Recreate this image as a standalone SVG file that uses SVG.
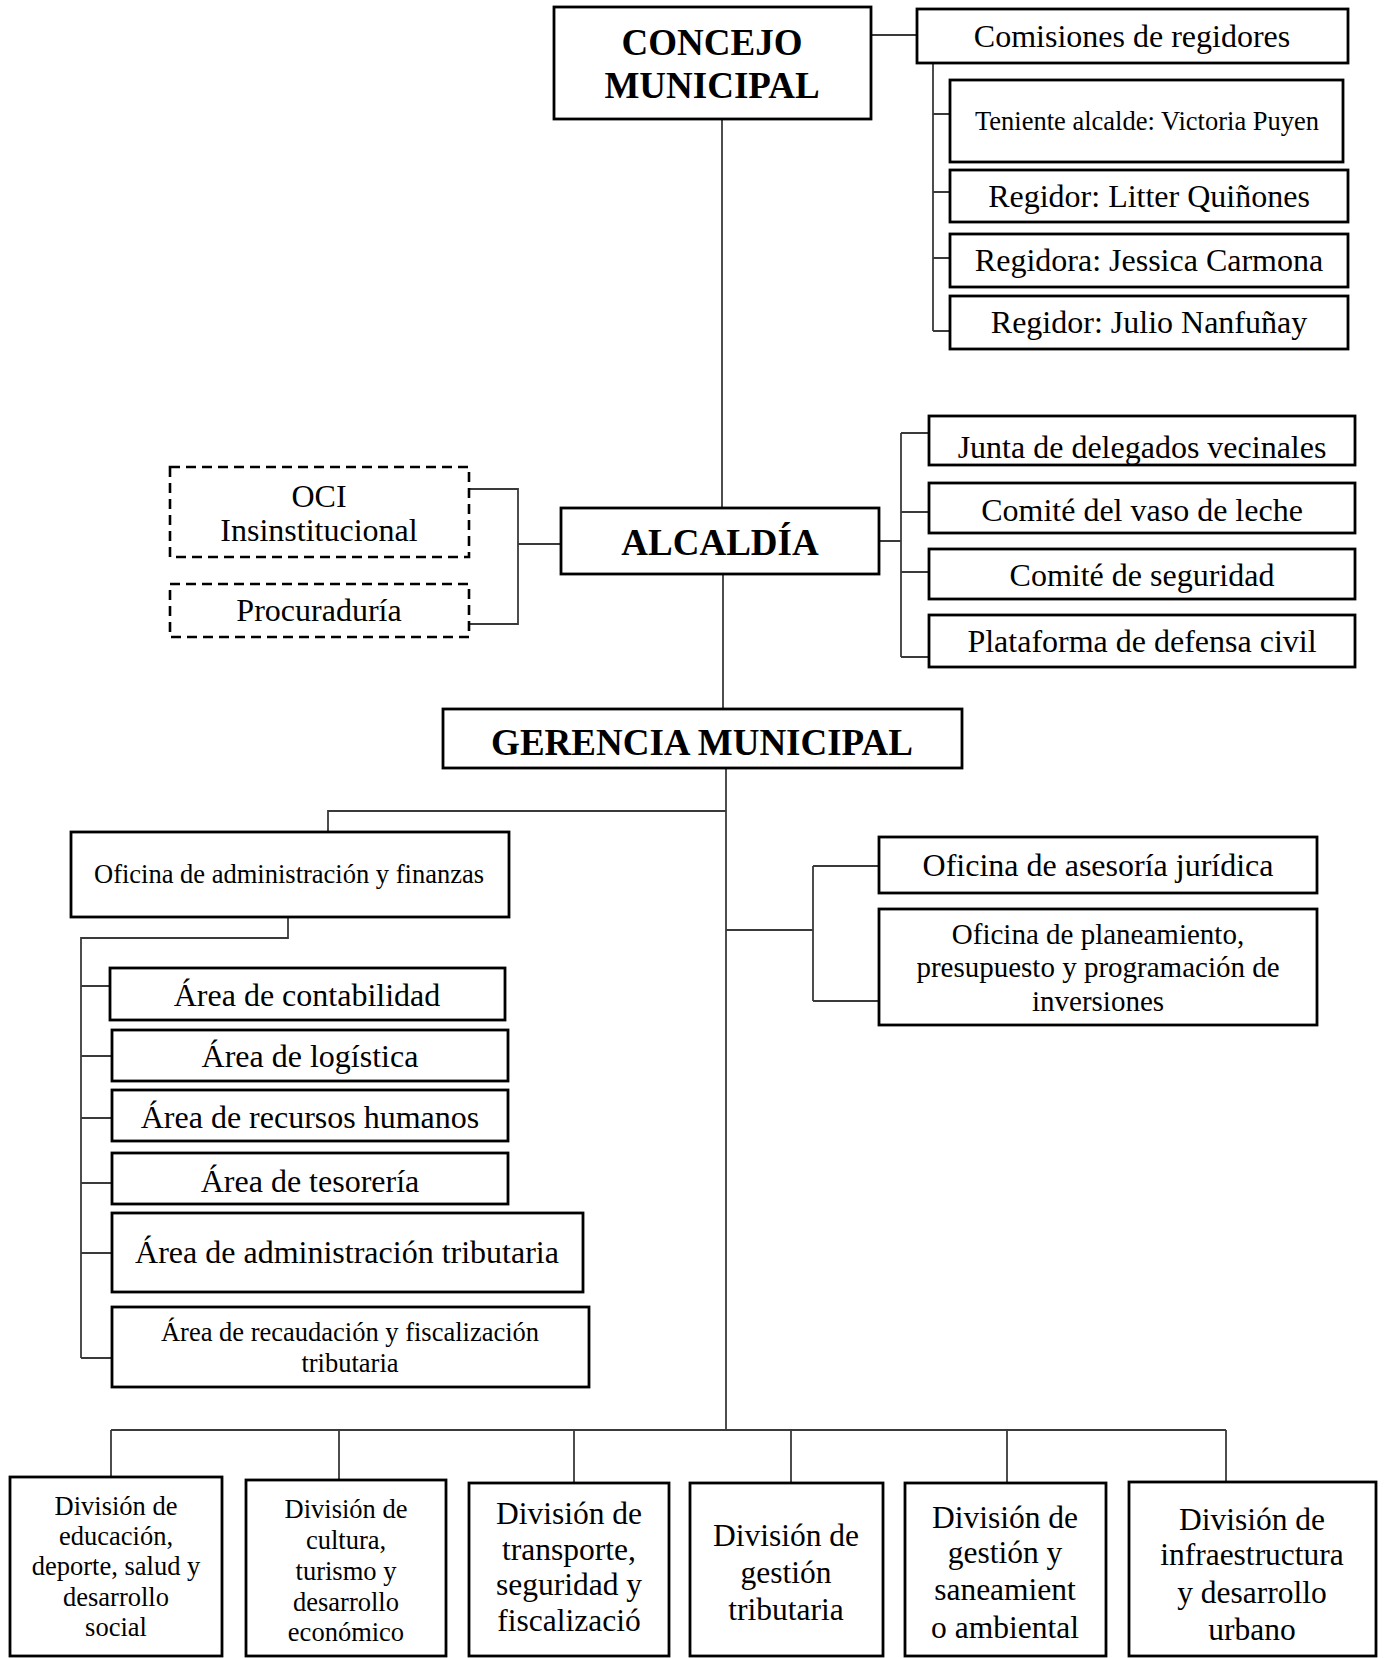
<svg xmlns="http://www.w3.org/2000/svg" width="1386" height="1658" viewBox="0 0 1386 1658">
<style>
  .box { fill: #ffffff; stroke: #000000; stroke-width: 2.8; }
  .dash { fill: #ffffff; stroke: #000000; stroke-width: 2.6; stroke-dasharray: 10 6; }
  .conn { fill: none; stroke: #3a3a3a; stroke-width: 1.8; }
  text { font-family: "Liberation Serif", "Times New Roman", serif; fill: #000000; text-anchor: middle; }
  .t32 { font-size: 32px; }
  .t26 { font-size: 26.5px; }
  .t29 { font-size: 29px; }
  .t31 { font-size: 31.5px; }
  .b37 { font-size: 37px; font-weight: bold; }
</style>
<rect x="0" y="0" width="1386" height="1658" fill="#ffffff"/>
<g id="connectors">
  <path class="conn" d="M722,119 V508"/>
  <path class="conn" d="M723,574 V709"/>
  <path class="conn" d="M726,768 V1430"/>
  <path class="conn" d="M871,35 H917"/>
  <path class="conn" d="M933,64 V331 M933,114 H950 M933,192 H950 M933,258 H950 M933,331 H950"/>
  <path class="conn" d="M469,489 H518 V624 H469 M518,544 H561"/>
  <path class="conn" d="M879,541 H901 M901,433 V657 M901,433 H929 M901,512 H929 M901,572 H929 M901,657 H929"/>
  <path class="conn" d="M726,811 H328 V832"/>
  <path class="conn" d="M288,917 V938 H81 V1358 M81,986 H110 M81,1056 H112 M81,1118 H112 M81,1183 H112 M81,1253 H112 M81,1358 H112"/>
  <path class="conn" d="M726,930 H813 M813,866 V1001 M813,866 H879 M813,1001 H879"/>
  <path class="conn" d="M111,1430 H1226 M111,1430 V1477 M339,1430 V1480 M574,1430 V1483 M791,1430 V1483 M1007,1430 V1483 M1226,1430 V1482"/>
</g>
<g id="concejo">
  <rect class="box" x="554" y="7" width="317" height="112"/>
  <text class="b37" x="712" y="55">CONCEJO</text>
  <text class="b37" x="712" y="98">MUNICIPAL</text>
</g>
<g id="comisiones">
  <rect class="box" x="917" y="9" width="431" height="54"/>
  <text class="t32" x="1132" y="47">Comisiones de regidores</text>
</g>
<g id="teniente">
  <rect class="box" x="950" y="80" width="393" height="82"/>
  <text class="t26" x="1147" y="130">Teniente alcalde: Victoria Puyen</text>
</g>
<g id="litter">
  <rect class="box" x="950" y="170" width="398" height="52"/>
  <text class="t32" x="1149" y="207">Regidor: Litter Quiñones</text>
</g>
<g id="jessica">
  <rect class="box" x="950" y="234" width="398" height="53"/>
  <text class="t32" x="1149" y="271">Regidora: Jessica Carmona</text>
</g>
<g id="julio">
  <rect class="box" x="950" y="296" width="398" height="53"/>
  <text class="t32" x="1149" y="333">Regidor: Julio Nanfuñay</text>
</g>
<g id="oci">
  <rect class="dash" x="170" y="467" width="299" height="90"/>
  <text class="t32" x="319" y="507">OCI</text>
  <text class="t32" x="319" y="541">Insinstitucional</text>
</g>
<g id="procuraduria">
  <rect class="dash" x="170" y="584" width="299" height="53"/>
  <text class="t32" x="319" y="621">Procuraduría</text>
</g>
<g id="alcaldia">
  <rect class="box" x="561" y="508" width="318" height="66"/>
  <text class="b37" x="720" y="555">ALCALDÍA</text>
</g>
<g id="junta">
  <rect class="box" x="929" y="416" width="426" height="49"/>
  <text class="t32" x="1142" y="458">Junta de delegados vecinales</text>
</g>
<g id="vaso">
  <rect class="box" x="929" y="483" width="426" height="50"/>
  <text class="t32" x="1142" y="521">Comité del vaso de leche</text>
</g>
<g id="seguridad">
  <rect class="box" x="929" y="549" width="426" height="50"/>
  <text class="t32" x="1142" y="586">Comité de seguridad</text>
</g>
<g id="plataforma">
  <rect class="box" x="929" y="615" width="426" height="52"/>
  <text class="t32" x="1142" y="652">Plataforma de defensa civil</text>
</g>
<g id="gerencia">
  <rect class="box" x="443" y="709" width="519" height="59"/>
  <text class="b37" x="702" y="755">GERENCIA MUNICIPAL</text>
</g>
<g id="of-admin">
  <rect class="box" x="71" y="832" width="438" height="85"/>
  <text class="t26" x="289" y="883">Oficina de administración y finanzas</text>
</g>
<g id="contabilidad">
  <rect class="box" x="110" y="968" width="395" height="52"/>
  <text class="t32" x="307" y="1006">Área de contabilidad</text>
</g>
<g id="logistica">
  <rect class="box" x="112" y="1030" width="396" height="51"/>
  <text class="t32" x="310" y="1067">Área de logística</text>
</g>
<g id="rrhh">
  <rect class="box" x="112" y="1090" width="396" height="51"/>
  <text class="t32" x="310" y="1128">Área de recursos humanos</text>
</g>
<g id="tesoreria">
  <rect class="box" x="112" y="1153" width="396" height="51"/>
  <text class="t32" x="310" y="1192">Área de tesorería</text>
</g>
<g id="admin-trib">
  <rect class="box" x="112" y="1213" width="471" height="79"/>
  <text class="t32" x="347" y="1263">Área de administración tributaria</text>
</g>
<g id="recaudacion">
  <rect class="box" x="112" y="1307" width="477" height="80"/>
  <text class="t26" x="350" y="1341">Área de recaudación y fiscalización</text>
  <text class="t26" x="350" y="1372">tributaria</text>
</g>
<g id="asesoria">
  <rect class="box" x="879" y="837" width="438" height="56"/>
  <text class="t32" x="1098" y="876">Oficina de asesoría jurídica</text>
</g>
<g id="planeamiento">
  <rect class="box" x="879" y="909" width="438" height="116"/>
  <text class="t29" x="1098" y="944">Oficina de planeamiento,</text>
  <text class="t29" x="1098" y="977">presupuesto y programación de</text>
  <text class="t29" x="1098" y="1011">inversiones</text>
</g>
<g id="div-educacion">
  <rect class="box" x="10" y="1477" width="212" height="179"/>
  <text class="t26" x="116" y="1515">División de</text>
  <text class="t26" x="116" y="1545">educación,</text>
  <text class="t26" x="116" y="1575">deporte, salud y</text>
  <text class="t26" x="116" y="1606">desarrollo</text>
  <text class="t26" x="116" y="1636">social</text>
</g>
<g id="div-cultura">
  <rect class="box" x="246" y="1480" width="200" height="176"/>
  <text class="t26" x="346" y="1518">División de</text>
  <text class="t26" x="346" y="1549">cultura,</text>
  <text class="t26" x="346" y="1580">turismo y</text>
  <text class="t26" x="346" y="1611">desarrollo</text>
  <text class="t26" x="346" y="1641">económico</text>
</g>
<g id="div-transporte">
  <rect class="box" x="469" y="1483" width="200" height="173"/>
  <text class="t31" x="569" y="1524">División de</text>
  <text class="t31" x="569" y="1560">transporte,</text>
  <text class="t31" x="569" y="1595">seguridad y</text>
  <text class="t31" x="569" y="1631">fiscalizació</text>
</g>
<g id="div-gestion-trib">
  <rect class="box" x="690" y="1483" width="193" height="173"/>
  <text class="t31" x="786" y="1546">División de</text>
  <text class="t31" x="786" y="1583">gestión</text>
  <text class="t31" x="786" y="1620">tributaria</text>
</g>
<g id="div-saneamiento">
  <rect class="box" x="905" y="1483" width="201" height="173"/>
  <text class="t31" x="1005" y="1528">División de</text>
  <text class="t31" x="1005" y="1563">gestión y</text>
  <text class="t31" x="1005" y="1600">saneamient</text>
  <text class="t31" x="1005" y="1638">o ambiental</text>
</g>
<g id="div-infraestructura">
  <rect class="box" x="1129" y="1482" width="247" height="174"/>
  <text class="t31" x="1252" y="1530">División de</text>
  <text class="t31" x="1252" y="1565">infraestructura</text>
  <text class="t31" x="1252" y="1603">y desarrollo</text>
  <text class="t31" x="1252" y="1640">urbano</text>
</g>
</svg>
